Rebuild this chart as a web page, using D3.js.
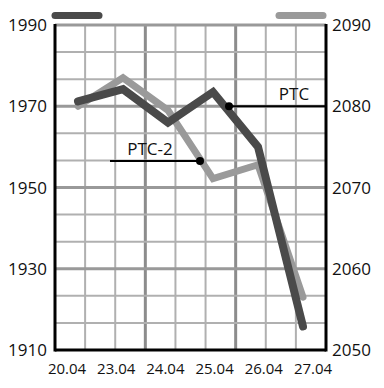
<!DOCTYPE html>
<html>
<head>
<meta charset="utf-8">
<script src="https://cdn.jsdelivr.net/npm/d3@7"></script>
<style>
  body { margin: 0; background: #fff; }
  text { font-family: "Open Sans", sans-serif; fill: #111; }
</style>
</head>
<body>
<svg id="chart" width="384" height="388"></svg>
<script>
const dates = ["20.04", "23.04", "24.04", "25.04", "26.04", "27.04"];
const ptc = [1971.2, 1974.2, 1966.0, 1973.5, 1960.0, 1915.8];      // left axis
const ptc2 = [2080.0, 2083.5, 2079.5, 2071.1, 2072.8, 2056.5];     // right axis
const leftTicks = [1910, 1930, 1950, 1970, 1990];
const rightTicks = [2050, 2060, 2070, 2080, 2090];

const svg = d3.select("#chart");
const x0 = 55, x1 = 326, y0 = 25, y1 = 350;

const yL = d3.scaleLinear().domain([1910, 1990]).range([y1, y0]);
const yR = d3.scaleLinear().domain([2050, 2090]).range([y1, y0]);
const xData = d3.scalePoint().domain(dates).range([78, 303]);
const xLab = d3.scalePoint().domain(dates).range([67, 313]);
const xGrid = d3.scaleLinear().domain([0, 9]).range([x0, x1]);
const yGrid = d3.scaleLinear().domain([0, 12]).range([y1, y0]);

// grid
const g = svg.append("g");
d3.range(1, 9).forEach(i => {
    g.append("line")
        .attr("x1", xGrid(i)).attr("x2", xGrid(i))
        .attr("y1", y0).attr("y2", y1)
        .attr("stroke", i % 3 === 0 ? "#8c8c8c" : "#b0b0b0")
        .attr("stroke-width", i % 3 === 0 ? 3 : 2);
});
d3.range(1, 13).forEach(i => {
    g.append("line")
        .attr("x1", x0).attr("x2", x1)
        .attr("y1", yGrid(i)).attr("y2", yGrid(i))
        .attr("stroke", i % 3 === 0 ? "#999" : "#b0b0b0")
        .attr("stroke-width", i % 3 === 0 ? 3 : 2);
});

// axes frame
svg.append("line").attr("x1", x0).attr("x2", x0).attr("y1", y0 - 1).attr("y2", y1 + 1.5)
    .attr("stroke", "#000").attr("stroke-width", 3);
svg.append("line").attr("x1", x1).attr("x2", x1).attr("y1", y0 - 1).attr("y2", y1 + 1.5)
    .attr("stroke", "#000").attr("stroke-width", 3);
svg.append("line").attr("x1", x0).attr("x2", x1).attr("y1", y1).attr("y2", y1)
    .attr("stroke", "#000").attr("stroke-width", 3);

// tick labels
svg.selectAll(".tl").data(leftTicks).join("text")
    .attr("x", 47).attr("y", d => yL(d) + 6)
    .attr("text-anchor", "end").attr("font-size", 17)
    .text(d => d);
svg.selectAll(".tr").data(rightTicks).join("text")
    .attr("x", 332).attr("y", d => yR(d) + 6)
    .attr("font-size", 17)
    .text(d => d);
svg.selectAll(".tx").data(dates).join("text")
    .attr("x", d => xLab(d)).attr("y", 374)
    .attr("text-anchor", "middle").attr("font-size", 15)
    .text(d => d);

// legend bars
svg.append("line").attr("x1", 55).attr("x2", 99).attr("y1", 15.5).attr("y2", 15.5)
    .attr("stroke", "#4a4a4a").attr("stroke-width", 7).attr("stroke-linecap", "round");
svg.append("line").attr("x1", 279).attr("x2", 323).attr("y1", 15.5).attr("y2", 15.5)
    .attr("stroke", "#9a9a9a").attr("stroke-width", 7).attr("stroke-linecap", "round");

// series
svg.append("path")
    .datum(ptc2)
    .attr("fill", "none")
    .attr("stroke", "#9a9a9a")
    .attr("stroke-width", 7)
    .attr("stroke-linecap", "round")
    .attr("d", d3.line().x((d, i) => xData(dates[i])).y(d => yR(d)));
svg.append("path")
    .datum(ptc)
    .attr("fill", "none")
    .attr("stroke", "#4a4a4a")
    .attr("stroke-width", 8)
    .attr("stroke-linecap", "round")
    .attr("d", d3.line().x((d, i) => xData(dates[i])).y(d => yL(d)));

// annotations
svg.append("line").attr("x1", 229).attr("x2", x1).attr("y1", yL(1970)).attr("y2", yL(1970))
    .attr("stroke", "#000").attr("stroke-width", 2);
svg.append("circle").attr("cx", 229).attr("cy", yL(1970)).attr("r", 4).attr("fill", "#000");
svg.append("text").attr("x", 294).attr("y", 100).attr("text-anchor", "middle")
    .attr("font-size", 17).text("PTC");

svg.append("line").attr("x1", 110).attr("x2", 200).attr("y1", 161).attr("y2", 161)
    .attr("stroke", "#000").attr("stroke-width", 2);
svg.append("circle").attr("cx", 200).attr("cy", 161).attr("r", 4).attr("fill", "#000");
svg.append("text").attr("x", 150).attr("y", 155).attr("text-anchor", "middle")
    .attr("font-size", 17).text("PTC-2");
</script>
</body>
</html>
